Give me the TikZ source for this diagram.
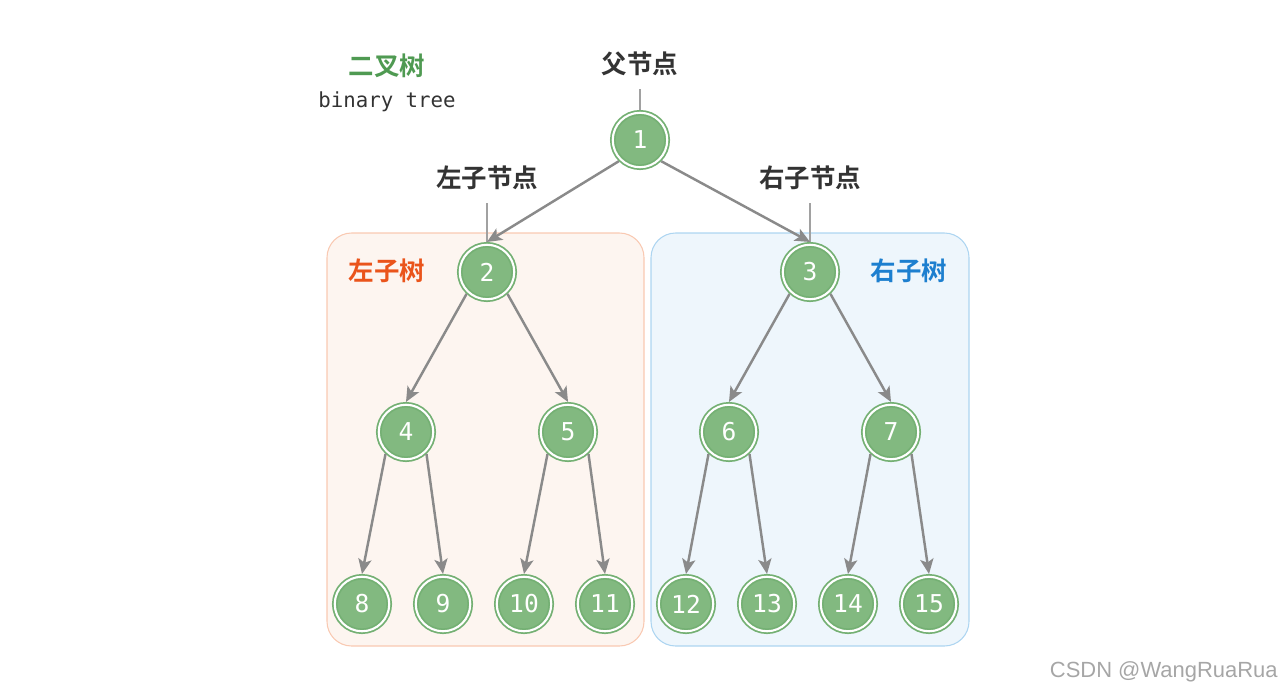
\documentclass[tikz,border=0pt]{standalone}
\usepackage{fontspec}
\usepackage{xcolor}
\newfontfamily\cjk{Noto Sans CJK SC}[BoldFont={Noto Sans CJK SC Bold}]
\newfontfamily\wmfont{Liberation Sans}
\setmonofont{DejaVu Sans Mono}
\usetikzlibrary{arrows.meta}

\definecolor{nodegreen}{HTML}{82B980}
\definecolor{ringgreen}{HTML}{74B073}
\definecolor{titlegreen}{HTML}{4F9A52}
\definecolor{edgegray}{HTML}{8A8A8A}
\definecolor{labelgray}{HTML}{333333}
\definecolor{leftfill}{HTML}{FDF5F0}
\definecolor{leftline}{HTML}{F9C9B2}
\definecolor{leftorange}{HTML}{EA541B}
\definecolor{rightfill}{HTML}{EEF6FC}
\definecolor{rightline}{HTML}{ADD5F1}
\definecolor{rightblue}{HTML}{1D7FCF}

\begin{document}
\begin{tikzpicture}[x=0.02cm, y=-0.02cm,
  treenode/.style={circle, minimum size=31pt, inner sep=0pt, fill=nodegreen,
    draw=ringgreen, line width=1pt, double=white, double distance=1.2pt,
    outer sep=1.6pt, text=white, font=\ttfamily\fontsize{14}{16}\selectfont},
  edge/.style={draw=edgegray, line width=1.4pt,
    -{Stealth[length=8.5pt, width=7.5pt, inset=2pt]}},
  pointer/.style={draw=edgegray!80, line width=0.6pt},
  lbl/.style={font=\cjk\bfseries\fontsize{14.5}{17}\selectfont, text=labelgray}]
  \useasboundingbox (0,0) rectangle (1280,696);

  % Sous-arbres
  \draw[leftline, fill=leftfill, line width=0.6pt, rounded corners=14pt]
    (327,233) rectangle (644,646);
  \draw[rightline, fill=rightfill, line width=0.6pt, rounded corners=14pt]
    (651,233) rectangle (969,646);
  \node[font=\cjk\bfseries\fontsize{14.5}{17}\selectfont, text=leftorange]
    (lefttitle) at (387,271) {左子树};
  \node[font=\cjk\bfseries\fontsize{14.5}{17}\selectfont, text=rightblue]
    (righttitle) at (909,271) {右子树};

  % Titre
  \node[font=\cjk\bfseries\fontsize{14.5}{17}\selectfont, text=titlegreen]
    (title) at (387,66) {二叉树};
  \node[font=\ttfamily\fontsize{11.8}{14}\selectfont, text=labelgray]
    (subtitle) at (387,102) {binary tree};

  % Noeuds
  \node[treenode] (n1) at (640,140) {1};
  \node[treenode] (n2) at (487,272) {2};
  \node[treenode] (n3) at (810,272) {3};
  \node[treenode] (n4) at (406,432) {4};
  \node[treenode] (n5) at (568,432) {5};
  \node[treenode] (n6) at (729,432) {6};
  \node[treenode] (n7) at (891,432) {7};
  \node[treenode] (n8) at (362,604) {8};
  \node[treenode] (n9) at (443,604) {9};
  \node[treenode] (n10) at (524,604) {10};
  \node[treenode] (n11) at (605,604) {11};
  \node[treenode] (n12) at (686,604) {12};
  \node[treenode] (n13) at (767,604) {13};
  \node[treenode] (n14) at (848,604) {14};
  \node[treenode] (n15) at (929,604) {15};

  % Etiquettes
  \node[lbl] (parentlbl) at (640,64) {父节点};
  \node[lbl] (leftlbl) at (487,178) {左子节点};
  \node[lbl] (rightlbl) at (810,178) {右子节点};
  \draw[pointer, shorten <=4pt] (parentlbl.south) -- (n1.north);
  \draw[pointer, shorten <=4pt] (leftlbl.south) -- (n2.north);
  \draw[pointer, shorten <=4pt] (rightlbl.south) -- (n3.north);

  % Aretes
  \draw[edge] (n1.-135) -- (n2.north);
  \draw[edge] (n1.-45) -- (n3.north);
  \draw[edge] (n2.-133) -- (n4.north);
  \draw[edge] (n2.-47) -- (n5.north);
  \draw[edge] (n3.-133) -- (n6.north);
  \draw[edge] (n3.-47) -- (n7.north);
  \draw[edge] (n4.-133) -- (n8.north);
  \draw[edge] (n4.-47) -- (n9.north);
  \draw[edge] (n5.-133) -- (n10.north);
  \draw[edge] (n5.-47) -- (n11.north);
  \draw[edge] (n6.-133) -- (n12.north);
  \draw[edge] (n6.-47) -- (n13.north);
  \draw[edge] (n7.-133) -- (n14.north);
  \draw[edge] (n7.-47) -- (n15.north);

  % Filigrane
  \node[anchor=east, inner sep=0pt, font=\wmfont\fontsize{12.5}{15}\selectfont,
    text=black!35] (watermark) at (1278,672) {CSDN @WangRuaRua};
\end{tikzpicture}
\end{document}
